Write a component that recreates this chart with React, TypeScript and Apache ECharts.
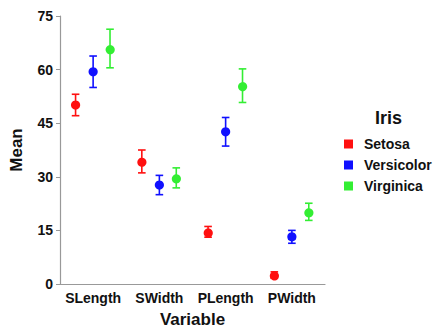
import React, { useEffect, useRef } from "react";
import * as echarts from "echarts";

const categories = ["SLength", "SWidth", "PLength", "PWidth"];
const groups = ["Setosa", "Versicolor", "Virginica"];
const setosaMean = [50.1, 34.3, 14.6, 2.5];
const setosaErr = [3.0, 3.2, 1.5, 0.9];
const versicolorMean = [59.4, 27.7, 42.6, 13.2];
const versicolorErr = [4.4, 2.7, 4.0, 1.8];
const virginicaMean = [65.9, 29.7, 55.5, 20.2];
const virginicaErr = [5.4, 2.8, 4.7, 2.4];
const yTicks = [0, 15, 30, 45, 60, 75];

const colors = ["#ff1010", "#1010ff", "#33ee33"];
const offsets = [-0.265, 0, 0.255];
const FONT = "Liberation Sans, Arial, sans-serif";

export default function App() {
  const ref = useRef<HTMLDivElement>(null);
  useEffect(() => {
    if (!ref.current) return;
    const chart = echarts.init(ref.current, null, { renderer: "svg" });
    const means = [setosaMean, versicolorMean, virginicaMean];
    const errs = [setosaErr, versicolorErr, virginicaErr];
    const series = groups.map((g, gi) => ({
      type: "custom",
      name: g,
      itemStyle: { color: colors[gi] },
      data: categories.map((_, ci) => [
        ci,
        means[gi][ci],
        means[gi][ci] - errs[gi][ci],
        means[gi][ci] + errs[gi][ci],
      ]),
      encode: { x: 0, y: [1, 2, 3] },
      renderItem: (params: any, api: any) => {
        const cat = api.value(0);
        const mean = api.value(1);
        const lo = api.value(2);
        const hi = api.value(3);
        const band = api.size([1, 0])[0];
        const c = api.coord([cat, mean]);
        const x = c[0] + band * offsets[gi];
        const yLo = api.coord([cat, lo])[1];
        const yHi = api.coord([cat, hi])[1];
        const cw = 3.8;
        const ls = { stroke: colors[gi], lineWidth: 1.6 };
        return {
          type: "group",
          children: [
            { type: "line", shape: { x1: x, y1: yLo, x2: x, y2: yHi }, style: ls },
            { type: "line", shape: { x1: x - cw, y1: yLo, x2: x + cw, y2: yLo }, style: ls },
            { type: "line", shape: { x1: x - cw, y1: yHi, x2: x + cw, y2: yHi }, style: ls },
            { type: "circle", shape: { cx: x, cy: c[1], r: 4.6 }, style: { fill: colors[gi] } },
          ],
        };
      },
    }));
    chart.setOption({
      animation: false,
      textStyle: { fontFamily: FONT },
      grid: { left: 59, right: 111, top: 16, bottom: 50 },
      title: {
        text: "Iris",
        left: 375,
        top: 109,
        textStyle: { fontFamily: FONT, fontSize: 18, fontWeight: "bold", color: "#111" },
        padding: 0,
      },
      legend: {
        data: groups.map((g) => ({ name: g, icon: "rect" })),
        orient: "vertical",
        left: 344,
        top: 137,
        itemWidth: 9,
        itemHeight: 9,
        itemGap: 7,
        padding: 0,
        selectedMode: false,
        textStyle: { fontFamily: FONT, fontSize: 14, fontWeight: "bold", color: "#111", padding: [0, 0, 0, 6] },
      },
      xAxis: {
        type: "category",
        data: categories,
        boundaryGap: true,
        name: "Variable",
        nameLocation: "middle",
        nameGap: 27,
        nameTextStyle: { fontFamily: FONT, fontSize: 17, fontWeight: "bold", color: "#111" },
        axisLine: { lineStyle: { color: "#999", width: 1.2 } },
        axisTick: { alignWithLabel: true, length: 4, lineStyle: { color: "#999" } },
        axisLabel: { interval: 0, fontFamily: FONT, fontSize: 14, fontWeight: "bold", color: "#111", margin: 7 },
      },
      yAxis: {
        type: "value",
        min: yTicks[0],
        max: yTicks[yTicks.length - 1],
        interval: 15,
        name: "Mean",
        nameLocation: "middle",
        nameGap: 35,
        nameTextStyle: { fontFamily: FONT, fontSize: 17, fontWeight: "bold", color: "#111" },
        axisLine: { show: true, lineStyle: { color: "#999", width: 1.2 } },
        axisTick: { show: true, length: 4, lineStyle: { color: "#999" } },
        splitLine: { show: false },
        axisLabel: { fontFamily: FONT, fontSize: 14, fontWeight: "bold", color: "#111", margin: 7 },
      },
      series,
    });
    return () => chart.dispose();
  }, []);
  return <div ref={ref} style={{ width: 436, height: 334, position: "absolute", left: 0, top: 0, background: "#fff" }} />;
}
